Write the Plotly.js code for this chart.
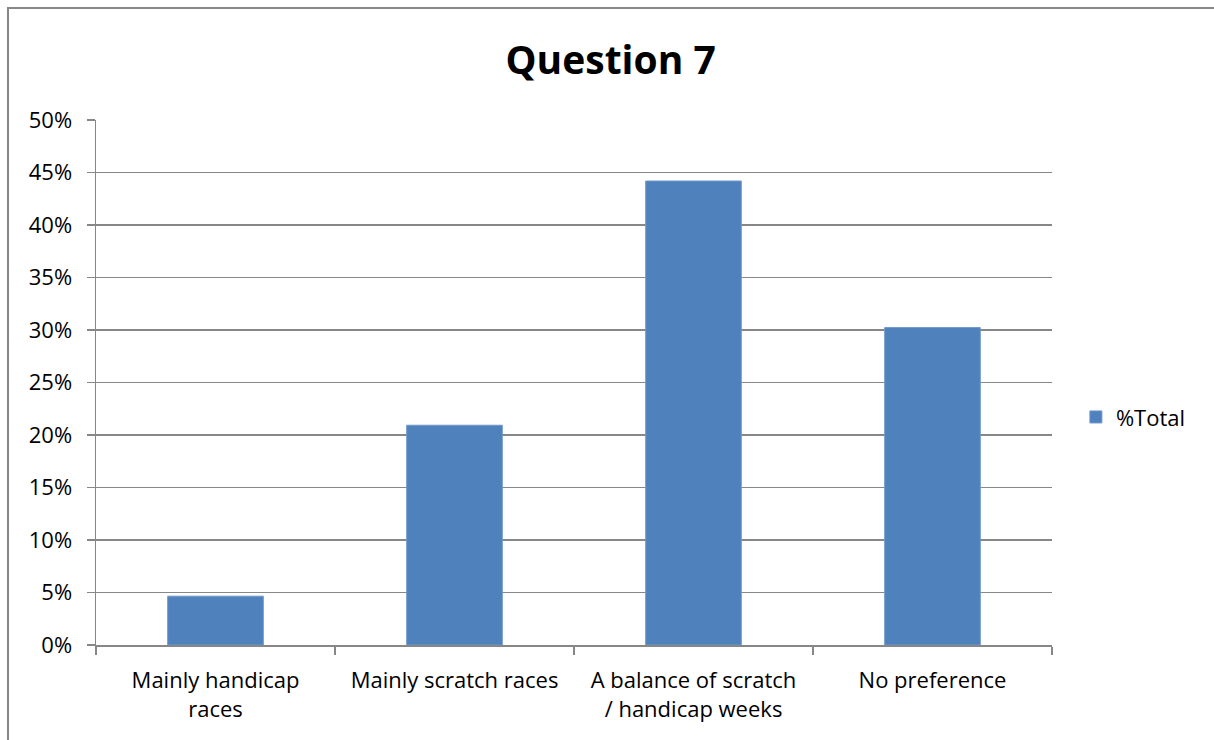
<!DOCTYPE html>
<html>
<head>
<meta charset="utf-8">
<script src="https://cdn.plot.ly/plotly-3.0.1.min.js"></script>
<style>
  html, body { margin: 0; padding: 0; background: #fff; }
  #chart { position: absolute; left: 0; top: 0; width: 1214px; height: 740px; }
  #frame { position: absolute; left: 7px; top: 7px; width: 1220px; height: 760px;
           border-left: 2px solid #878787; border-top: 2px solid #878787; pointer-events: none; }
</style>
</head>
<body>
<div id="chart"></div>
<div id="frame"></div>
<script>
const categories = [
  "Mainly handicap<br>races",
  "Mainly scratch races",
  "A balance of scratch<br>/ handicap weeks",
  "No preference"
];
const seriesName = "%Total";
const values = [0.0465, 0.2093, 0.4419, 0.3023];
const yTickVals = [0, 0.05, 0.10, 0.15, 0.20, 0.25, 0.30, 0.35, 0.40, 0.45, 0.50];
const yTickText = ["0%", "5%", "10%", "15%", "20%", "25%", "30%", "35%", "40%", "45%", "50%"];

const font = "Open Sans, Liberation Sans, sans-serif";
const grey = "#878787";

Plotly.newPlot("chart", [{
  type: "bar",
  x: categories,
  y: values,
  name: seriesName,
  showlegend: true,
  marker: { color: "#4F81BD", line: { color: "#6F97CB", width: 1 } },
  hoverinfo: "skip"
}], {
  width: 1214, height: 740,
  margin: { l: 96, r: 162, t: 120, b: 95 },
  paper_bgcolor: "#fff", plot_bgcolor: "#fff",
  bargap: 0.6,
  title: { text: "<b>Question 7</b>", x: 0.503, xanchor: "center", y: 0.918, yanchor: "middle",
           font: { family: font, size: 39, color: "#000" } },
  font: { family: font, color: "#000" },
  xaxis: {
    type: "category",
    tickson: "boundaries",
    ticks: "outside", ticklen: 8, tickcolor: grey, tickwidth: 1.5,
    showline: true, linecolor: grey, linewidth: 1.5,
    showgrid: false,
    tickfont: { family: font, size: 22, color: "#000" },
    ticklabelstandoff: 15,
    automargin: false
  },
  yaxis: {
    range: [0, 0.5],
    tickvals: yTickVals, ticktext: yTickText,
    ticks: "outside", ticklen: 8, tickcolor: grey, tickwidth: 1.5,
    showline: true, linecolor: grey, linewidth: 1.5,
    showgrid: true, gridcolor: grey, gridwidth: 1.5,
    zeroline: false,
    tickfont: { family: font, size: 22, color: "#000" },
    ticklabelstandoff: 10,
    automargin: false
  },
  legend: {
    x: 1.025, xanchor: "left", y: 0.434, yanchor: "middle",
    font: { family: font, size: 22, color: "#000" },
    itemwidth: 30, bgcolor: "rgba(0,0,0,0)"
  }
}, { staticPlot: true });
</script>
</body>
</html>
